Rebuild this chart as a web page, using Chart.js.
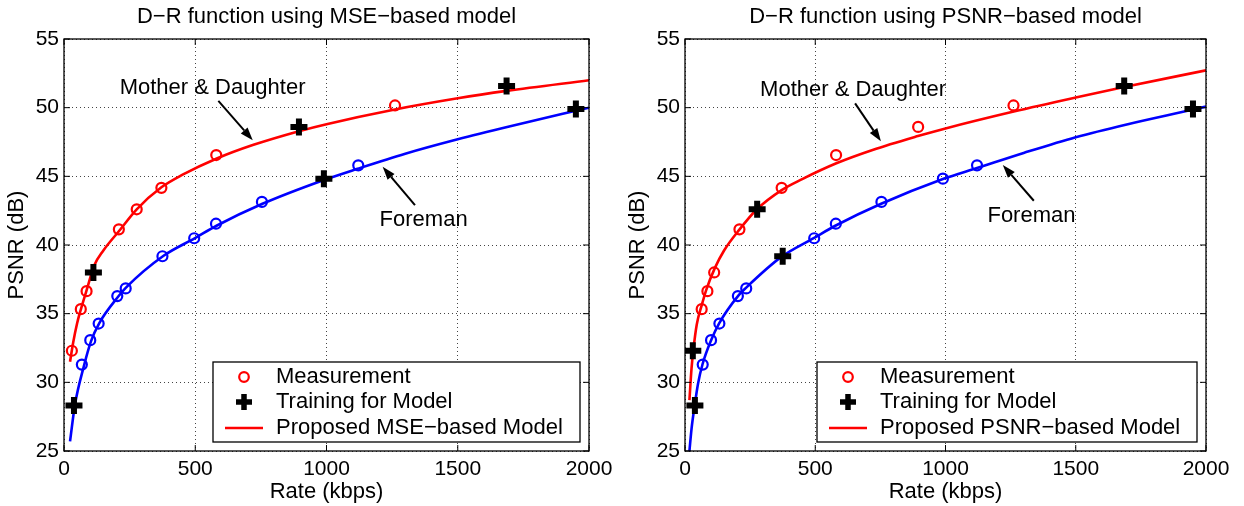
<!DOCTYPE html>
<html>
<head>
<meta charset="utf-8">
<script src="https://cdn.jsdelivr.net/npm/chart.js@4.4.0/dist/chart.umd.min.js"></script>
<style>
  html, body { margin: 0; padding: 0; background: #fff; }
  #wrap { position: relative; width: 1244px; height: 506px; }
  .pane { position: absolute; top: 0; height: 506px; }
</style>
</head>
<body>
<div id="wrap">
  <div class="pane" style="left:0;width:620px"><canvas id="c1"></canvas></div>
  <div class="pane" style="left:620px;width:624px"><canvas id="c2"></canvas></div>
</div>
<script>
// measured points, rate in kbps / PSNR in dB
const mdRate = [30, 64, 86, 112, 209, 277, 371, 580, 895, 1261, 1686];
const mdPsnr = [32.3, 35.33, 36.64, 38.0, 41.14, 42.6, 44.16, 46.55, 48.6, 50.16, 51.58];
const fmRate = [38, 68, 100, 132, 203, 235, 375, 496, 579, 754, 990, 1121, 1950];
const fmPsnr = [28.32, 31.29, 33.07, 34.28, 36.28, 36.84, 39.18, 40.49, 41.55, 43.14, 44.83, 45.8, 49.9];

// which measured points were used for training (index into arrays above)
const mseTrainMD = [3, 8, 10];
const mseTrainFM = [0, 10, 12];
const psnrTrainMD = [0, 5, 10];
const psnrTrainFM = [0, 6, 12];

// model curves
const mseMDRate = [23, 35, 50, 64, 86, 115, 150, 209, 277, 371, 450, 582, 719, 895, 1000, 1256, 1500, 1686, 2000];
const mseMDPsnr = [31.5, 32.9, 34.3, 35.3, 36.7, 38.5, 39.6, 41.0, 42.6, 44.2, 45.1, 46.3, 47.28, 48.29, 48.8, 49.85, 50.68, 51.22, 52.0];
const mseFMRate = [23, 42, 76, 103, 134, 209, 236, 378, 499, 581, 756, 985, 1118, 1300, 1500, 1700, 2000];
const mseFMPsnr = [25.7, 28.4, 31.2, 33.0, 34.3, 36.3, 36.9, 39.2, 40.5, 41.4, 43.0, 44.7, 45.55, 46.65, 47.7, 48.65, 50.0];

const psnrMDRate = [17, 25, 32, 45, 64, 81, 114, 150, 208, 276, 371, 450, 581, 720, 894, 1000, 1262, 1500, 1686, 2000];
const psnrMDPsnr = [28.7, 31.0, 32.35, 34.2, 35.6, 36.7, 38.3, 39.6, 41.1, 42.6, 44.0, 44.8, 45.95, 46.92, 47.93, 48.49, 49.72, 50.74, 51.5, 52.72];
const psnrFMRate = [17, 25, 37, 50, 67, 101, 131, 204, 235, 371, 494, 577, 753, 990, 1121, 1300, 1500, 1700, 1947, 2000];
const psnrFMPsnr = [25.0, 26.6, 28.3, 29.9, 31.3, 33.1, 34.3, 36.3, 36.9, 39.15, 40.5, 41.4, 43.0, 44.8, 45.6, 46.7, 47.85, 48.8, 49.85, 50.08];

const xTicks = [0, 500, 1000, 1500, 2000];
const yTicks = [25, 30, 35, 40, 45, 50, 55];

const TICKFONT = { family: '"Liberation Sans", Arial, sans-serif', size: 21 };
const TEXT = '22px "Liberation Sans", Arial, sans-serif';
const RED = '#ff0000', BLUE = '#0000ff';

const pts = (xs, ys) => xs.map((x, i) => ({ x, y: ys[i] }));
const pick = (xs, ys, idx) => idx.map(i => ({ x: xs[i], y: ys[i] }));
const rest = (xs, ys, idx) => pts(xs, ys).filter((_, i) => !idx.includes(i));

function arrow(ctx, x1, y1, x2, y2) {
  const a = Math.atan2(y2 - y1, x2 - x1);
  const L = 13, W = 4.5;
  ctx.strokeStyle = '#000';
  ctx.fillStyle = '#000';
  ctx.lineWidth = 2;
  ctx.beginPath();
  ctx.moveTo(x1, y1);
  ctx.lineTo(x2 - L * Math.cos(a), y2 - L * Math.sin(a));
  ctx.stroke();
  ctx.beginPath();
  ctx.moveTo(x2, y2);
  ctx.lineTo(x2 - L * Math.cos(a) + W * Math.sin(a), y2 - L * Math.sin(a) - W * Math.cos(a));
  ctx.lineTo(x2 - L * Math.cos(a) - W * Math.sin(a), y2 - L * Math.sin(a) + W * Math.cos(a));
  ctx.closePath();
  ctx.fill();
}

// frame, inward ticks, titles, annotations, legend
function decor(cfg) {
  return {
    id: 'decor',
    afterDraw(chart) {
      const { ctx, chartArea: a, scales: { x, y } } = chart;
      ctx.save();
      // box
      ctx.strokeStyle = '#000';
      ctx.lineWidth = 1.3;
      ctx.strokeRect(a.left, a.top, a.right - a.left, a.bottom - a.top);
      // ticks pointing in
      ctx.lineWidth = 1;
      ctx.beginPath();
      xTicks.forEach(v => {
        const px = x.getPixelForValue(v);
        ctx.moveTo(px, a.bottom); ctx.lineTo(px, a.bottom - 6);
        ctx.moveTo(px, a.top); ctx.lineTo(px, a.top + 6);
      });
      yTicks.forEach(v => {
        const py = y.getPixelForValue(v);
        ctx.moveTo(a.left, py); ctx.lineTo(a.left + 6, py);
        ctx.moveTo(a.right, py); ctx.lineTo(a.right - 6, py);
      });
      ctx.stroke();

      // titles
      ctx.fillStyle = '#000';
      ctx.font = TEXT;
      ctx.textAlign = 'center';
      ctx.textBaseline = 'middle';
      const cx = (a.left + a.right) / 2;
      ctx.fillText(cfg.title, cx, 17);
      ctx.fillText('Rate (kbps)', cx, 492);
      ctx.save();
      ctx.translate(cfg.yLabelX, (a.top + a.bottom) / 2);
      ctx.rotate(-Math.PI / 2);
      ctx.fillText('PSNR (dB)', 0, 0);
      ctx.restore();

      // annotations
      cfg.notes.forEach(n => {
        ctx.fillStyle = '#000';
        ctx.fillText(n.text, x.getPixelForValue(n.at[0]), y.getPixelForValue(n.at[1]));
        arrow(ctx, x.getPixelForValue(n.from[0]), y.getPixelForValue(n.from[1]),
                   x.getPixelForValue(n.to[0]), y.getPixelForValue(n.to[1]));
      });

      // legend
      const L = a.right - 9 - cfg.legendW, T = 362, H = 80;
      ctx.fillStyle = '#fff';
      ctx.fillRect(L, T, cfg.legendW, H);
      ctx.strokeStyle = '#000';
      ctx.lineWidth = 1.3;
      ctx.strokeRect(L, T, cfg.legendW, H);
      const rows = [T + 15, T + 40, T + 66];
      // circle marker
      ctx.strokeStyle = RED;
      ctx.lineWidth = 2.2;
      ctx.beginPath();
      ctx.arc(L + 31, rows[0], 4.8, 0, Math.PI * 2);
      ctx.stroke();
      // plus marker
      ctx.strokeStyle = '#000';
      ctx.lineWidth = 5.5;
      ctx.beginPath();
      ctx.moveTo(L + 31 - 8, rows[1]); ctx.lineTo(L + 31 + 8, rows[1]);
      ctx.moveTo(L + 31, rows[1] - 8); ctx.lineTo(L + 31, rows[1] + 8);
      ctx.stroke();
      // line sample
      ctx.strokeStyle = RED;
      ctx.lineWidth = 2.5;
      ctx.beginPath();
      ctx.moveTo(L + 12, rows[2]); ctx.lineTo(L + 50, rows[2]);
      ctx.stroke();
      ctx.fillStyle = '#000';
      ctx.textAlign = 'left';
      ctx.fillText('Measurement', L + 63, rows[0]);
      ctx.fillText('Training for Model', L + 63, rows[1]);
      ctx.fillText(cfg.modelName, L + 63, rows[2]);
      ctx.restore();
    }
  };
}

function makeChart(id, cfg) {
  const W = document.getElementById(id).parentNode.clientWidth;
  const curve = (data, color) => ({
    data, showLine: true, borderColor: color, borderWidth: 2.6,
    pointRadius: 0, cubicInterpolationMode: 'monotone', fill: false
  });
  const circles = (data, color) => ({
    data, showLine: false, pointStyle: 'circle', pointRadius: 5,
    borderColor: color, backgroundColor: 'transparent', pointBorderWidth: 2.2
  });
  return new Chart(document.getElementById(id).getContext('2d'), {
    type: 'scatter',
    data: {
      datasets: [
        {
          data: pick(mdRate, mdPsnr, cfg.trainMD).concat(pick(fmRate, fmPsnr, cfg.trainFM)),
          showLine: false, pointStyle: 'cross', pointRadius: 8.5,
          borderColor: '#000', pointBorderWidth: 6
        },
        circles(rest(mdRate, mdPsnr, cfg.trainMD), RED),
        circles(rest(fmRate, fmPsnr, cfg.trainFM), BLUE),
        curve(pts(cfg.mdRate, cfg.mdPsnr), RED),
        curve(pts(cfg.fmRate, cfg.fmPsnr), BLUE)
      ]
    },
    options: {
      responsive: true,
      maintainAspectRatio: false,
      animation: false,
      layout: { padding: { left: 0, right: W - cfg.right, top: 39, bottom: 0 } },
      plugins: { legend: { display: false }, tooltip: { enabled: false } },
      scales: {
        x: {
          type: 'linear', min: 0, max: 2000,
          afterBuildTicks: s => { s.ticks = xTicks.map(v => ({ value: v })); },
          afterFit: s => { s.height = 55; },
          ticks: { font: TICKFONT, color: '#000', padding: 6, maxRotation: 0, callback: v => String(v) },
          grid: { color: '#444', drawTicks: false, lineWidth: 1 },
          border: { display: false, dash: [1, 3] }
        },
        y: {
          type: 'linear', min: 25, max: 55,
          afterBuildTicks: s => { s.ticks = yTicks.map(v => ({ value: v })); },
          afterFit: s => { s.width = cfg.left; },
          ticks: { font: TICKFONT, color: '#000', padding: 5, callback: v => String(v) },
          grid: { color: '#444', drawTicks: false, lineWidth: 1 },
          border: { display: false, dash: [1, 3] }
        }
      }
    },
    plugins: [decor(cfg)]
  });
}

makeChart('c1', {
  title: 'D\u2212R function using MSE\u2212based model',
  modelName: 'Proposed MSE\u2212based Model',
  left: 64, right: 589, yLabelX: 17, legendW: 367,
  trainMD: mseTrainMD, trainFM: mseTrainFM,
  mdRate: mseMDRate, mdPsnr: mseMDPsnr, fmRate: mseFMRate, fmPsnr: mseFMPsnr,
  notes: [
    { text: 'Mother & Daughter', at: [566, 51.42], from: [588, 50.5], to: [719, 47.63] },
    { text: 'Foreman', at: [1370, 41.81], from: [1337, 42.9], to: [1214, 45.69] }
  ]
});

makeChart('c2', {
  title: 'D\u2212R function using PSNR\u2212based model',
  modelName: 'Proposed PSNR\u2212based Model',
  left: 65, right: 586, yLabelX: 18, legendW: 380,
  trainMD: psnrTrainMD, trainFM: psnrTrainFM,
  mdRate: psnrMDRate, mdPsnr: psnrMDPsnr, fmRate: psnrFMRate, fmPsnr: psnrFMPsnr,
  notes: [
    { text: 'Mother & Daughter', at: [645, 51.32], from: [653, 50.31], to: [752, 47.55] },
    { text: 'Foreman', at: [1330, 42.14], from: [1339, 43.22], to: [1220, 45.82] }
  ]
});
</script>
</body>
</html>
